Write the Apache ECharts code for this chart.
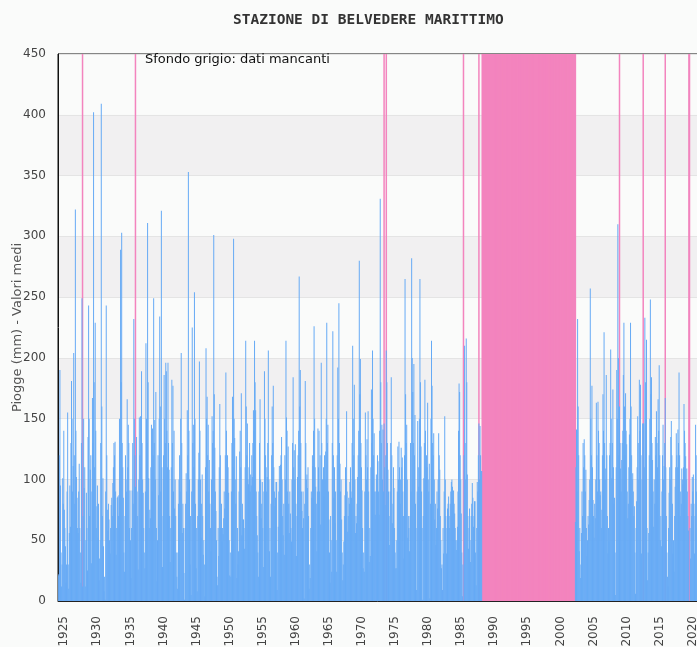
<!DOCTYPE html>
<html>
<head>
<meta charset="utf-8">
<title>Stazione di Belvedere Marittimo</title>
<script src="https://cdn.jsdelivr.net/npm/echarts@6/dist/echarts.min.js"></script>
<style>
  html, body { margin: 0; padding: 0; background: #fafbfa; }
  #chart { width: 697px; height: 647px; }
</style>
</head>
<body>
<div id="chart"></div>
<script>
// piogge mensili (mm), una riga per anno, gen..dic; null = dato mancante
const rain1925 = [
  21, 22, 120, 190, 95, 40, 12, 30, 101, 80, 140, 75,
  60, 45, 15, 30, 90, 155, 30, 10, 56, 95, 61, 130,
  181, 150, 90, 111, 204, 120, 80, 322, 140, 102, 85, 60,
  56, 90, 113, 60, 40, 15, 130, 249, 12, 70, 150, 93,
  110, 12, 50, 89, 60, 25, 135, 243, 150, 70, 108, 120
]
const rain1930 = [
  31, 90, 167, 130, 402, 180, 110, 229, 140, 60, 78, 95,
  52, 80, 17, 35, 50, 130, 409, 160, 70, 101, 45, 8,
  20, 1, 90, 243, 120, 75, 58, 80, 67, 50, 39, 60,
  79, 85, 70, 97, 110, 130, 120, 131, 90, 38, 60, 85,
  86, 70, 87, 150, 100, 289, 180, 303, 130, 110, 85, 40,
  24, 70, 120, 100, 90, 166, 110, 145, 130, 60, 91, 50,
  19, 60, 91, 130, 80, 232, 150, 120, 94, 50, 135, 90,
  70, 26, 100, 151, 120, 152, 110, 189, 130, 100, 89, 60,
  40, 27, 90, 212, 150, 130, 311, 180, 101, 60, 75, 68,
  110, 145, 90, 142, 120, 249, 130, 149, 100, 172, 60, 16
]
const rain1940 = [
  50, 120, 87, 150, 234, 160, 90, 321, 110, 28, 70, 120,
  186, 150, 130, 196, 189, 140, 110, 196, 130, 108, 70, 32,
  60, 110, 182, 130, 177, 90, 140, 76, 100, 70, 40, 20,
  10, 40, 80, 100, 120, 90, 150, 204, 130, 56, 80, 60,
  23, 1, 60, 80, 105, 90, 157, 120, 353, 140, 100, 30,
  70, 5, 90, 225, 130, 145, 110, 254, 150, 80, 27, 60,
  8, 70, 100, 122, 197, 140, 100, 52, 80, 104, 70, 38,
  50, 30, 4, 110, 208, 150, 168, 120, 145, 90, 116, 80,
  60, 41, 100, 152, 130, 140, 301, 170, 126, 90, 74, 50,
  20, 13, 60, 37, 110, 162, 120, 60, 80, 49, 60, 55
]
const rain1950 = [
  68, 90, 76, 120, 188, 140, 100, 120, 110, 89, 50, 21,
  40, 20, 90, 130, 168, 110, 298, 150, 134, 100, 80, 119,
  19, 60, 30, 41, 90, 123, 140, 110, 171, 54, 80, 67,
  67, 60, 43, 110, 214, 160, 120, 146, 100, 96, 110, 130,
  90, 104, 95, 120, 102, 130, 157, 140, 214, 180, 157, 90,
  70, 54, 40, 20, 90, 130, 166, 100, 68, 80, 98, 60,
  28, 90, 189, 150, 120, 110, 90, 102, 130, 206, 100, 41,
  60, 20, 80, 120, 160, 130, 177, 110, 90, 78, 85, 98,
  98, 9, 40, 61, 90, 111, 100, 112, 120, 135, 100, 70,
  54, 80, 38, 120, 100, 214, 151, 140, 90, 127, 80, 56
]
const rain1960 = [
  90, 72, 60, 49, 100, 130, 184, 110, 124, 100, 129, 80,
  37, 70, 102, 120, 140, 267, 160, 190, 130, 90, 74, 60,
  90, 68, 2, 80, 181, 130, 100, 104, 93, 110, 70, 10,
  30, 19, 60, 90, 85, 120, 111, 140, 226, 150, 110, 94,
  80, 41, 90, 142, 110, 140, 90, 120, 63, 196, 130, 100,
  100, 110, 86, 120, 100, 123, 150, 229, 130, 145, 90, 67,
  40, 15, 70, 50, 24, 130, 222, 120, 85, 110, 64, 90,
  50, 24, 120, 192, 150, 245, 130, 113, 90, 100, 67, 40,
  17, 30, 49, 70, 87, 110, 100, 156, 90, 57, 70, 85,
  80, 98, 110, 90, 85, 130, 210, 150, 120, 178, 100, 56
]
const rain1970 = [
  70, 64, 80, 102, 120, 140, 280, 170, 199, 130, 110, 91,
  60, 27, 40, 24, 90, 155, 120, 100, 133, 110, 156, 90,
  32, 60, 37, 110, 174, 130, 206, 150, 120, 138, 90, 71,
  90, 104, 100, 120, 115, 90, 71, 140, 331, 180, 130, 145,
  100, 141, 90, 146, 110, 79, 120, 206, 180, 130, 108, 90,
  70, 46, 90, 130, 184, 120, 64, 80, 110, 93, 60, 40,
  27, 50, 27, 90, 127, 100, 131, 110, 80, 100, 126, 110,
  118, 90, 70, 35, 120, 265, 170, 130, 145, 100, 52, 70,
  60, 41, 70, 130, 90, 282, 200, 172, 130, 195, 120, 153,
  80, 60, 9, 90, 148, 110, 94, 150, 265, 180, 127, 90
]
const rain1980 = [
  60, 1, 70, 101, 130, 182, 140, 100, 120, 110, 163, 100,
  90, 113, 2, 80, 150, 214, 177, 130, 120, 138, 100, 67,
  80, 46, 60, 90, 76, 100, 138, 120, 108, 70, 50, 27,
  30, 9, 60, 39, 90, 152, 100, 70, 39, 60, 76, 80,
  86, 70, 60, 80, 90, 98, 100, 94, 85, 91, 80, 72,
  60, 50, 42, 50, 61, 90, 140, 179, 172, 120, 100, 72,
  40, 4, 30, null, 120, 210, 130, 100, 216, 180, 104, 70,
  43, 60, 76, 50, 32, 70, 80, 97, 85, 61, 70, 82,
  82, 40, 13, 60, 98, 90, 120, 146, 100, 144, 120, 107,
  107, null, null, null, null, null, null, null, null, null, null, null
]
const rain2003 = [
  null, null, 65, 110, 141, 90, 232, 160, 120, 41, 60, 19,
  30, 56, 90, 70, 130, 110, 133, 120, 90, 108, 60, 37,
  50, 70, 63, 83, 100, 257, 150, 120, 177, 110, 83, 70,
  52, 80, 68, 100, 163, 120, 90, 164, 140, 130, 100, 87,
  90, 60, 75, 120, 170, 140, 221, 130, 100, 109, 186, 120,
  70, 39, 60, 49, 120, 130, 207, 150, 101, 130, 174, 110,
  80, 85, 40, 5, 110, 190, 150, 310, 200, 120, 160, 130
]
const rain2010 = [
  109, 90, 116, 130, 140, 186, 229, 160, 120, 171, 140, 129,
  90, 68, 80, 110, 137, 150, 229, 160, 120, 100, 105, 90,
  70, 78, 40, 6, 60, 82, 110, 152, 130, 100, 182, 140,
  178, 120, 39, 100, 146, 146, 146, 110, 233, 180, 150, 215,
  60, 17, 40, 56, 120, 150, 248, 170, 184, 130, 116, 90,
  61, 100, 80, 135, 120, 156, 130, 110, 166, 140, 194, 120,
  50, 70, 45, 90, 120, 145, 100, 111, 130, 167, 110, 70,
  40, 20, 12, 60, 89, 110, 100, 135, 148, 120, 80, 39,
  50, 24, 70, 94, 110, 138, 120, 110, 141, 130, 188, 120,
  70, 90, 80, 109, 100, 96, 110, 162, 140, 130, 119, 100,
  109, 90, 70, 58, null, null, 60, 35, 80, 70, 102, 90,
  104, 80, 39, 70, 145, 120, 90, 60, 40, 20, 30, 80
]
// periodi con dati mancanti (inizio, fine)
const missingPeriods = [
  ['1928-09', '1928-09'],
  ['1936-09', '1936-09'],
  ['1974-04', '1974-04'],
  ['1974-08', '1974-08'],
  ['1986-04', '1986-04'],
  ['1988-08', '1988-08'],
  ['1989-02', '2003-03'],
  ['2009-11', '2009-11'],
  ['2013-06', '2013-06'],
  ['2016-10', '2016-10'],
  ['2020-05', '2020-06']
]
const firstYear = 1925
const lastYear = 2021
const yTicks = [0, 50, 100, 150, 200, 250, 300, 350, 400, 450]

// mesi 1990-2002: tutti mancanti
const gap = []
for (let y = 1990; y <= 2002; y++) {
  for (let m = 0; m < 12; m++) gap.push(null)
}
const rain = [].concat(rain1925, rain1930, rain1940, rain1950, rain1960, rain1970, rain1980, gap, rain2003, rain2010)

const months = []
for (let y = firstYear; y <= lastYear; y++) {
  for (let m = 1; m <= 12; m++) {
    months.push(y + '-' + (m < 10 ? '0' + m : m))
  }
}

const missing = months.map(function(k) {
  for (const p of missingPeriods) {
    if (k >= p[0] && k <= p[1]) return yTicks[yTicks.length - 1]
  }
  return null
})

const chart = echarts.init(document.getElementById('chart'))
chart.setOption({
  animation: false,
  backgroundColor: '#fafbfa',
  textStyle: { fontFamily: 'DejaVu Sans' },
  graphic: [
    {
      type: 'text',
      left: 368 - 135,
      top: 13,
      style: {
        text: 'STAZIONE DI BELVEDERE MARITTIMO',
        font: 'bold 14.5px "DejaVu Sans Mono"',
        fill: '#333'
      }
    },
    {
      type: 'text',
      left: 145,
      top: 53,
      z: 100,
      style: {
        text: 'Sfondo grigio: dati mancanti',
        font: '13px "DejaVu Sans"',
        fill: '#111'
      }
    }
  ],
  grid: {
    left: 58,
    top: 54,
    width: months.length * 0.5513,
    bottom: 46,
    outerBoundsMode: 'none',
    containLabel: false,
    show: true,
    borderColor: '#111',
    borderWidth: 1
  },
  xAxis: [
    {
      type: 'category',
      data: months,
      boundaryGap: true,
      axisLine: { lineStyle: { color: '#222', width: 1 } },
      axisTick: { show: false },
      axisLabel: {
        rotate: 90,
        verticalAlign: 'top',
        margin: 15,
        fontSize: 12,
        color: '#444',
        interval: function(index) { return index % 60 === 0 },
        formatter: function(v) { return v.slice(0, 4) }
      },
      splitLine: { show: false }
    },
    {
      // stesso asse, solo per le barre dei dati mancanti
      type: 'category',
      data: months,
      boundaryGap: true,
      position: 'bottom',
      show: false
    }
  ],
  yAxis: {
    type: 'value',
    min: yTicks[0],
    max: yTicks[yTicks.length - 1],
    interval: 50,
    name: 'Piogge (mm) - Valori medi',
    nameLocation: 'middle',
    nameGap: 34,
    nameMoveOverlap: false,
    nameTextStyle: { fontSize: 13, color: '#555' },
    axisLine: { show: true, lineStyle: { color: '#111', width: 1 } },
    axisTick: { show: false },
    axisLabel: { margin: 12, fontSize: 12, color: '#444' },
    splitLine: { lineStyle: { color: '#e4e4e4' } },
    splitArea: {
      show: true,
      areaStyle: { color: ['rgba(250,251,250,1)', 'rgba(241,240,241,1)'] }
    }
  },
  series: [
    {
      name: 'mancanti',
      type: 'bar',
      xAxisIndex: 1,
      data: missing,
      barWidth: 1.5,
      itemStyle: { color: '#f384be' },
      z: 1
    },
    {
      name: 'piogge',
      type: 'bar',
      xAxisIndex: 0,
      data: rain,
      barCategoryGap: '0%',
      itemStyle: { color: '#66aaf5' },
      z: 2
    }
  ]
})
</script>
</body>
</html>
